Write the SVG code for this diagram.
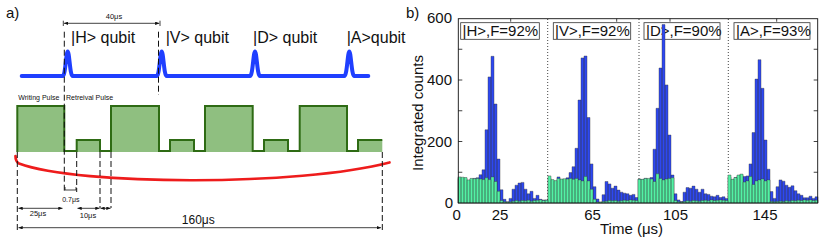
<svg xmlns="http://www.w3.org/2000/svg" width="831" height="246" viewBox="0 0 831 246">
<style>
text{font-family:"Liberation Sans",Arial,sans-serif;fill:#111}
.lbl{font-size:15px}
.q{font-size:16px}
.sm{font-size:7px}
.dash{stroke:#111;stroke-width:1;stroke-dasharray:6 3;fill:none}
.dim{stroke:#111;stroke-width:0.8;fill:none}
.arr{stroke:#111;stroke-width:0.8;fill:none;marker-start:url(#ah);marker-end:url(#ah)}
.dot{stroke:#444;stroke-width:1;stroke-dasharray:1 2;fill:none}
.box{fill:#fff;stroke:#333;stroke-width:0.8}
.tick{stroke:#111;stroke-width:0.8}
.bar{stroke:#3a3a3a;stroke-width:0.4}
</style>
<defs>
<marker id="ah" viewBox="0 0 6 5" refX="6" refY="2.5" markerWidth="4.5" markerHeight="3.5" markerUnits="userSpaceOnUse" orient="auto-start-reverse">
<path d="M0,0 L6,2.5 L0,5 z" fill="#111"/>
</marker>
</defs>
<rect width="831" height="246" fill="#fff"/>

<g id="panel-a">
<text class="lbl" x="6" y="18">a)</text>
<g id="qubit-signal">
<path d="M21.7,76 H62.7 C65.5,76 66,51.5 67.7,51.5 C69.4,51.5 69.9,76 72.7,76 H156.7 C159.5,76 160,51.5 161.7,51.5 C163.4,51.5 163.9,76 166.7,76 H250 C252.8,76 253.3,51.5 255,51.5 C256.7,51.5 257.2,76 260,76 H344.3 C347.1,76 347.6,51.5 349.3,51.5 C351,51.5 351.5,76 354.3,76 H368.3" fill="none" stroke="#1f3fff" stroke-width="4" stroke-linejoin="round" stroke-linecap="round"/>
<text class="q" x="71" y="43.3">|H&gt; qubit</text>
<text class="q" x="165.7" y="43.3">|V&gt; qubit</text>
<text class="q" x="253" y="43.3">|D&gt; qubit</text>
<text class="q" x="346.7" y="43.3">|A&gt;qubit</text>
</g>
<g id="pulse-train">
<path d="M17.3,152 V106 H64.3 V151 H76.7 V140 H100 V151 H111 V106 H159 V151 H170 V140 H194 V151 H205 V106 H252.7 V151 H264 V140 H288 V151 H299.7 V106 H347 V151 H358 V140 H382.3 V152 Z" fill="#8fbf80"/>
<path d="M17.3,152 V106 H64.3 V151 H76.7 V140 H100 V151 H111 V106 H159 V151 H170 V140 H194 V151 H205 V106 H252.7 V151 H264 V140 H288 V151 H299.7 V106 H347 V151 H358 V140 H382.3" fill="none" stroke="#2e6b14" stroke-width="2"/>
<text class="sm" x="18.3" y="99.5">Writing Pulse</text>
<text class="sm" x="66" y="99.5">Retreival Pulse</text>
</g>
<g id="loop">
<path d="M15.5,156 C15.5,160 16,162 19,163.5 C80,186 300,186 389.5,162.5" fill="none" stroke="#ee1c1c" stroke-width="2.7" stroke-linecap="round"/>
</g>
<g id="dimensions">
<path class="dash" d="M17.3,152 V232 M64.3,31.7 V192 M76.7,152 V192 M100,152 V208 M111,152 V208 M158.5,31.7 V95 M382.3,152 V232"/>
<path class="dim" d="M63.3,20.7 V26 M160,20.7 V26 M65,187 V190 H76 V187"/>
<path class="arr" d="M64,23.3 H159.3"/>
<path class="arr" d="M18.5,208.3 H62.5"/>
<path class="arr" d="M77.5,208.3 H99.5"/>
<path class="arr" d="M100.5,208.3 H110.5"/>
<path class="arr" d="M18.5,227.7 H381"/>
<text style="font-size:7.5px" x="114" y="19" text-anchor="middle">40μs</text>
<text class="sm" x="70.8" y="201.5" text-anchor="middle">0.7μs</text>
<text style="font-size:7.5px" x="38" y="216" text-anchor="middle">25μs</text>
<text style="font-size:7.5px" x="88" y="217.5" text-anchor="middle">10μs</text>
<text style="font-size:12px" x="198.3" y="223.5" text-anchor="middle">160μs</text>
</g>
</g>

<g id="panel-b">
<text class="lbl" x="406" y="18">b)</text>
<g id="separators">
<path class="dot" d="M547.7,19 V203 M639,19 V203 M728.3,19 V203"/>
</g>
<g id="legend-H"><rect class="box" x="460.7" y="22.7" width="78.6" height="16.6"/><text class="lbl" x="462.5" y="36.2">|H&gt;,F=92%</text></g>
<g id="legend-V"><rect class="box" x="553.3" y="22.7" width="77.4" height="16.6"/><text class="lbl" x="555" y="36.2">|V&gt;,F=92%</text></g>
<g id="legend-D"><rect class="box" x="644" y="22.7" width="76" height="16.6"/><text class="lbl" x="646" y="36.2">|D&gt;,F=90%</text></g>
<g id="legend-A"><rect class="box" x="734" y="22.7" width="76" height="16.6"/><text class="lbl" x="736" y="36.2">|A&gt;,F=93%</text></g>
<g id="bars">
<path class="bar" fill="#2d48f2" d="M458 203v-24.6h3V203v-24h3V203v-24.6h3V203v-22.1h3V203v-24h3V203v-24.6h3V203v-25.2h3V203v-28.3h3V203v-33.2h3V203v-73.2h3V203v-126.1h3V203v-146.7h3V203v-99h3V203v-44h3V203v-13.2h3V203v-3.7h3V203v-1.2h3V203v-4.6h3V203v-13.8h3V203v-17.8h3V203v-20h3V203v-20.6h3V203v-13.8h3V203v-9.2h3V203v-11.7h3V203v-4.6h3V203v-7.7h3V203v-3.7h3V203v-3.1h3V203v-3.1h3V203
v-24.6h3V203v-22.1h3V203v-21.5h3V203v-26.1h3V203v-23.4h3V203v-23.4h3V203v-25.2h3V203v-30.4h3V203v-36.3h3V203v-54.7h3V203v-103h3V203v-145.1h3V203v-147h3V203v-85.5h3V203v-39.1h3V203v-16.3h3V203v-4h3V203v-0.9h3V203v-8.3h3V203v-21.5h3V203v-19.1h3V203v-14.8h3V203v-16.9h3V203v-12.9h3V203v-10.8h3V203v-9.8h3V203v-9.2h3V203v-7.7h3V203v-8.6h3V203v-5.5h3V203
v-24h3V203v-23.4h3V203v-24.6h3V203v-23.7h3V203v-25.5h3V203v-53.8h3V203v-94.7h3V203v-135h3V203v-178.4h3V203v-118.1h3V203v-68h3V203v-28h3V203v-9.2h3V203v-3.1h3V203v-1.5h3V203v-10.8h3V203v-15.4h3V203v-14.8h3V203v-16.9h3V203v-13.8h3V203v-10.8h3V203v-13.8h3V203v-9.2h3V203v-8.6h3V203v-6.8h3V203v-6.2h3V203v-7.7h3V203v-5.5h3V203v-6.2h3V203v-4.6h3V203
v-26.1h3V203v-23.1h3V203v-25.5h3V203v-27.1h3V203v-28.3h3V203v-26.4h3V203v-27.1h3V203v-39.1h3V203v-70.4h3V203v-123.9h3V203v-143.3h3V203v-114.7h3V203v-63h3V203v-33.8h3V203v-11.4h3V203v-4.6h3V203v-16.3h3V203v-23.1h3V203v-21.8h3V203v-17.8h3V203v-15.7h3V203v-17.2h3V203v-12.3h3V203v-9.2h3V203v-7.7h3V203v-5.2h3V203v-5.2h3V203v-6.8h3V203v-4.6h3V203v-6.2h3V203z"/>
<path class="bar" fill="#52f2a4" d="M458 203v-26.1h3V203v-25.8h3V203v-25.5h3V203v-23.1h3V203v-24.6h3V203v-24.3h3V203v-24.6h3V203v-24h3V203v-23.4h3V203v-25.2h3V203v-23.4h3V203v-26.1h3V203v-21.5h3V203v-11.7h3V203v-2.5h3V203v-1.2h3V203v-0.9h3V203v-1.2h3V203v-1.8h3V203v-2.5h3V203v-1.8h3V203v-2.5h3V203v-2.2h3V203v-2.8h3V203v-1.8h3V203v-2.5h3V203v-2.8h3V203v-3.1h3V203v-2.5h3V203v-2.8h3V203
v-27.1h3V203v-23.4h3V203v-22.4h3V203v-24.6h3V203v-24h3V203v-24.3h3V203v-24h3V203v-24.6h3V203v-23.7h3V203v-24.6h3V203v-23.1h3V203v-22.1h3V203v-26.4h3V203v-22.1h3V203v-13.8h3V203v-3.7h3V203v-0.9h3V203v-0.9h3V203v-1.5h3V203v-1.8h3V203v-2.5h3V203v-2.2h3V203v-2.5h3V203v-1.8h3V203v-2.2h3V203v-2.8h3V203v-2.5h3V203v-3.1h3V203v-2.8h3V203v-2.5h3V203
v-23.7h3V203v-23.7h3V203v-24.6h3V203v-24.6h3V203v-24h3V203v-21.5h3V203v-29.2h3V203v-24.6h3V203v-23.1h3V203v-24h3V203v-24.6h3V203v-25.2h3V203v-2.5h3V203v-1.2h3V203v-0.9h3V203v-1.5h3V203v-2.2h3V203v-1.8h3V203v-2.5h3V203v-2.2h3V203v-1.8h3V203v-2.5h3V203v-2.8h3V203v-2.2h3V203v-3.1h3V203v-2.5h3V203v-2.8h3V203v-3.1h3V203v-2.8h3V203v-2.5h3V203
v-28h3V203v-23.7h3V203v-25.5h3V203v-28h3V203v-28.9h3V203v-20.9h3V203v-22.1h3V203v-26.4h3V203v-18.5h3V203v-22.1h3V203v-23.1h3V203v-24h3V203v-22.1h3V203v-23.1h3V203v-1.5h3V203v-1.2h3V203v-1.5h3V203v-1.8h3V203v-1.5h3V203v-2.2h3V203v-1.8h3V203v-2.5h3V203v-2.2h3V203v-2.8h3V203v-2.5h3V203v-3.1h3V203v-2.8h3V203v-3.1h3V203v-2.5h3V203v-2.8h3V203z"/>
</g>
<g id="axes">
<rect x="458.3" y="18.7" width="359.4" height="184.3" fill="none" stroke="#111" stroke-width="0.9"/>
<path class="tick" d="M458.3,172.25 h4 M458.3,141.5 h4 M458.3,110.75 h4 M458.3,80 h4 M458.3,49.25 h4 M817.7,172.25 h-4 M817.7,141.5 h-4 M817.7,110.75 h-4 M817.7,80 h-4 M817.7,49.25 h-4 M510.7,18.7 v3 M616.7,18.7 v3 M670,18.7 v3 M776.7,18.7 v3"/>
<text class="lbl" x="452" y="23.3" text-anchor="end">600</text>
<text class="lbl" x="452" y="85.3" text-anchor="end">400</text>
<text class="lbl" x="452" y="146.5" text-anchor="end">200</text>
<text class="lbl" x="453" y="208" text-anchor="end">0</text>
<text class="lbl" x="456.7" y="220" text-anchor="middle">0</text>
<text class="lbl" x="500" y="220" text-anchor="middle">25</text>
<text class="lbl" x="592.5" y="220" text-anchor="middle">65</text>
<text class="lbl" x="675.5" y="220" text-anchor="middle">105</text>
<text class="lbl" x="765" y="220" text-anchor="middle">145</text>
<text class="lbl" x="631.5" y="234" text-anchor="middle">Time (μs)</text>
<text class="lbl" transform="translate(422.5,113) rotate(-90)" text-anchor="middle">Integrated counts</text>
</g>
</g>
</svg>
